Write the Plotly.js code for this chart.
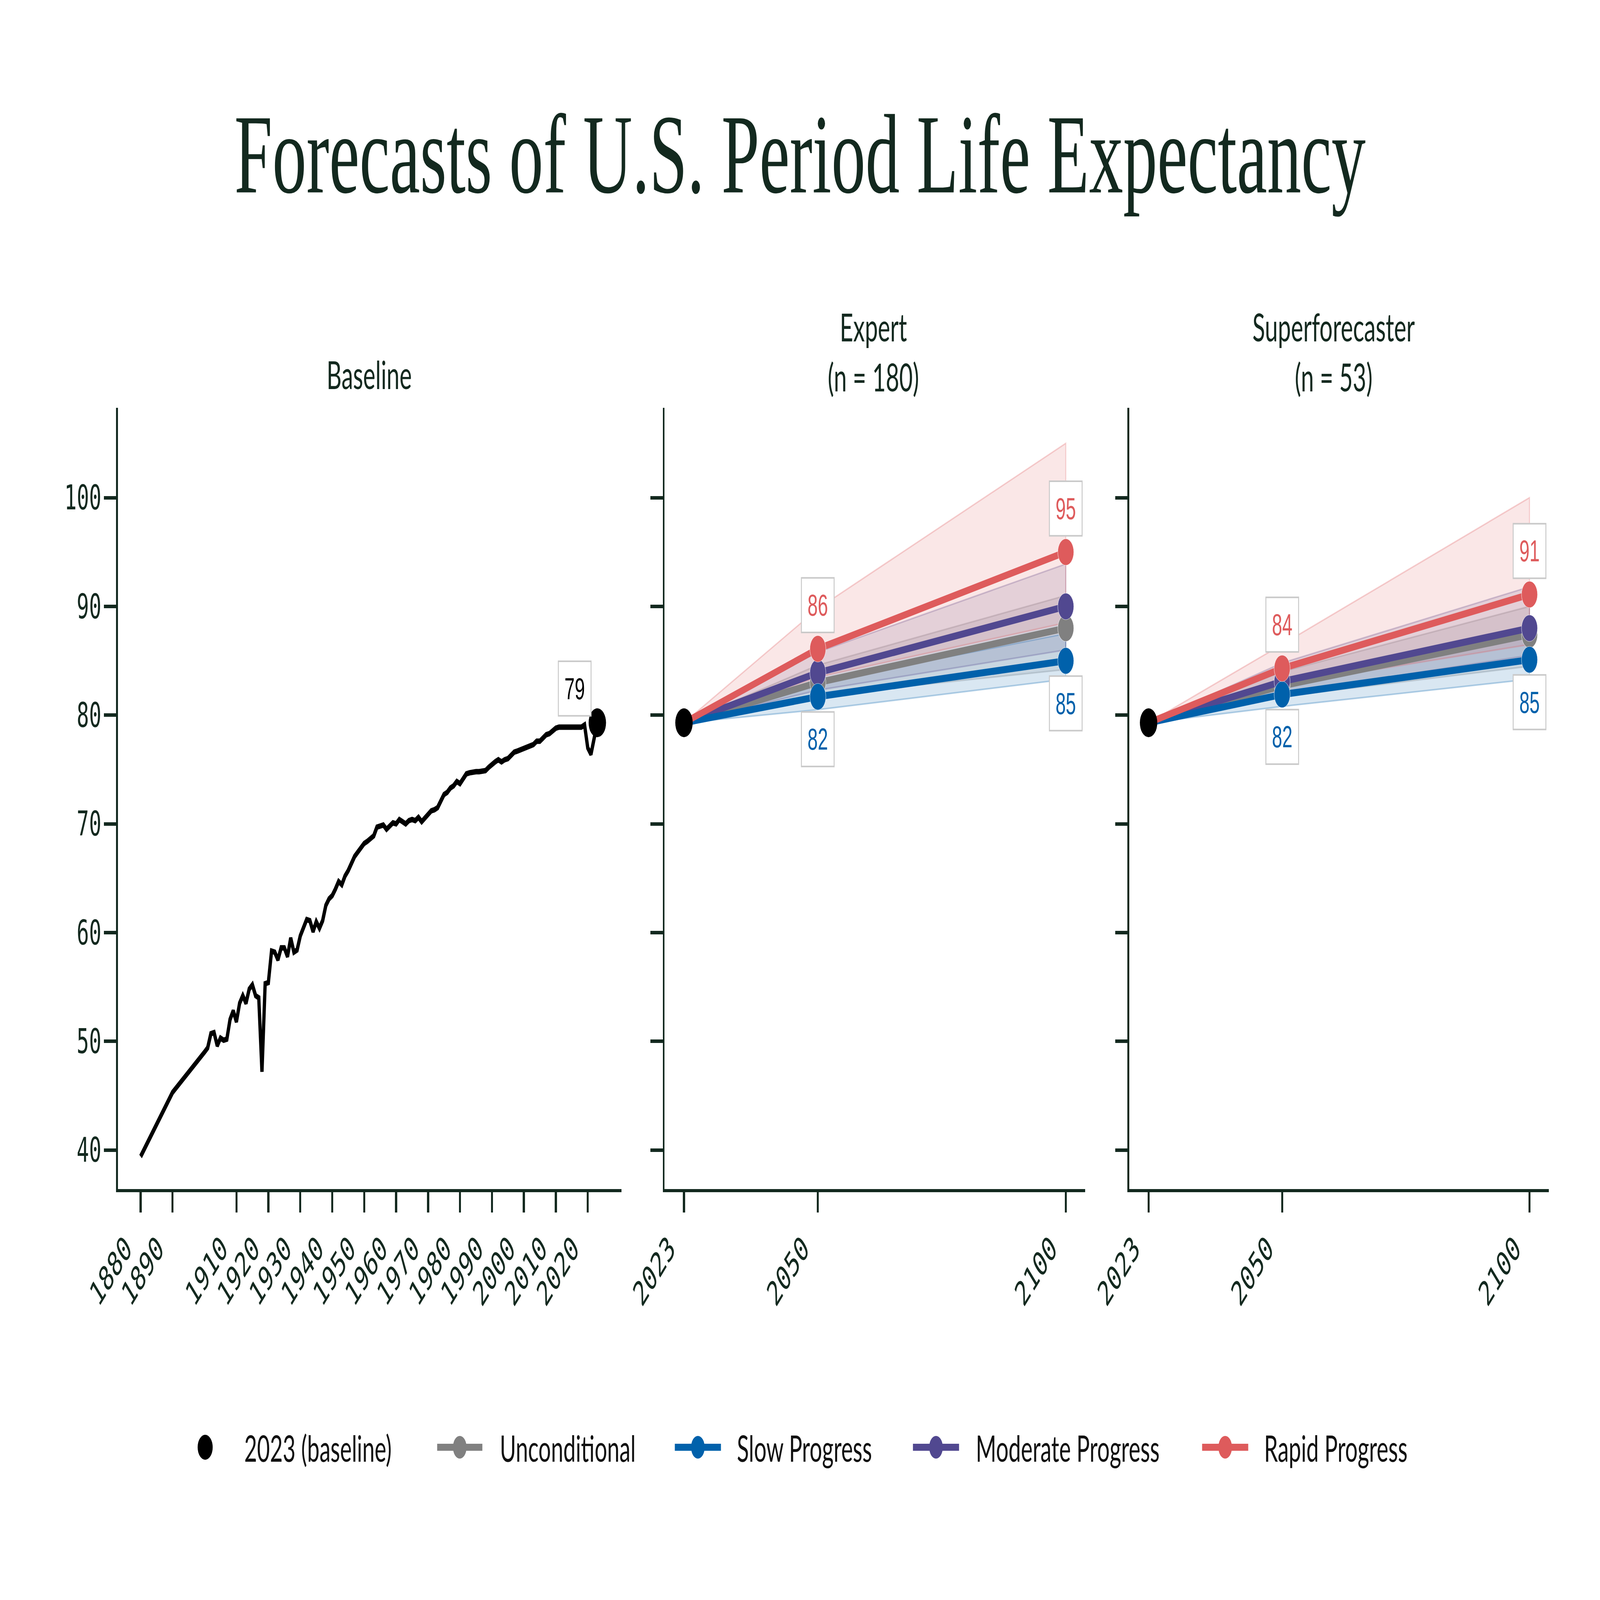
<!DOCTYPE html>
<html>
<head>
<meta charset="utf-8">
<script src="https://cdn.plot.ly/plotly-3.0.1.min.js"></script>
<style>
html,body{margin:0;padding:0;background:#fff;overflow:hidden;}
#wrap{position:absolute;left:0;top:0;width:6800px;height:4106px;transform-origin:0 0;}
#chart{width:6800px;height:4106px;}
</style>
</head>
<body>
<div id="wrap"><div id="chart"></div></div>
<script>
// ---------- DATA ----------
const baselineYears = [1880,1890,1900,1901,1902,1903,1904,1905,1906,1907,1908,1909,
1910,1911,1912,1913,1914,1915,1916,1917,1918,1919,
1920,1921,1922,1923,1924,1925,1926,1927,1928,1929,
1930,1931,1932,1933,1934,1935,1936,1937,1938,1939,
1940,1941,1942,1943,1944,1945,1946,1947,1948,1949,
1950,1951,1952,1953,1954,1955,1956,1957,1958,1959,
1960,1961,1962,1963,1964,1965,1966,1967,1968,1969,
1970,1971,1972,1973,1974,1975,1976,1977,1978,1979,
1980,1981,1982,1983,1984,1985,1986,1987,1988,1989,
1990,1991,1992,1993,1994,1995,1996,1997,1998,1999,
2000,2001,2002,2003,2004,2005,2006,2007,2008,2009,
2010,2011,2012,2013,2014,2015,2016,2017,2018,2019,
2020,2021,2022,2023];
const baselineLE = [39.4,45.3,49.0,49.4,50.7,50.8,49.6,50.3,50.1,50.2,52.0,52.8,
51.8,53.5,54.2,53.5,54.8,55.2,54.2,54.0,47.2,55.3,
55.4,58.3,58.2,57.5,58.6,58.6,57.8,59.5,58.2,58.4,
59.7,60.5,61.2,61.1,60.1,61.0,60.4,61.1,62.5,63.1,
63.4,64.0,64.7,64.4,65.2,65.7,66.3,67.0,67.4,67.8,
68.2,68.4,68.6,68.9,69.7,69.8,69.9,69.5,69.8,70.1,
70.0,70.4,70.2,70.0,70.3,70.4,70.3,70.6,70.2,70.5,
70.8,71.2,71.3,71.5,72.1,72.7,72.9,73.3,73.5,73.9,
73.7,74.2,74.6,74.7,74.8,74.8,74.8,74.9,74.9,75.2,
75.5,75.7,75.9,75.7,75.9,76.0,76.3,76.6,76.7,76.8,
76.9,77.0,77.1,77.3,77.6,77.6,77.9,78.2,78.3,78.6,
78.8,78.9,78.9,78.9,78.9,78.8,78.8,78.8,78.9,79.1,
77.0,76.4,77.9,79.3];

const baseYear = 2023;
const baseValue = 79.3;
const forecastYears = [2023, 2050, 2100];

const scenarioNames = ["Unconditional", "Slow Progress", "Moderate Progress", "Rapid Progress"];
const scenarioColors = ["#808080", "#0061ab", "#514890", "#de5b5c"];
const scenarioRGB = ["128,128,128", "0,97,171", "81,72,144", "222,91,92"];

// Expert (n = 180): values at 2050, 2100 per scenario
const expertMedian = [[83.0, 88.0], [81.7, 85.0], [83.9, 90.0], [86.1, 95.0]];
const expertLower  = [[81.8, 84.2], [80.5, 83.3], [82.3, 86.0], [83.5, 88.5]];
const expertUpper  = [[84.6, 91.0], [83.0, 87.5], [85.8, 93.9], [89.8, 105.0]];

// Superforecaster (n = 53)
const superMedian = [[82.7, 87.4], [81.9, 85.1], [83.1, 88.0], [84.3, 91.1]];
const superLower  = [[81.7, 84.5], [80.8, 83.3], [82.0, 85.5], [82.8, 86.5]];
const superUpper  = [[84.0, 90.0], [83.0, 87.5], [84.8, 91.8], [86.5, 100.0]];

const baselineTicks = [1880,1890,1910,1920,1930,1940,1950,1960,1970,1980,1990,2000,2010,2020];
const forecastTicks = [2023, 2050, 2100];
const yTicks = [40,50,60,70,80,90,100];

// ---------- STYLE ----------
const W = 6800, H = 4106;
// fit the 6800x4106 design into whatever window we are given
(function fit() {
  const vw = window.innerWidth || W, vh = window.innerHeight || H;
  const sx = Math.min(1, vw / W), sy = Math.min(1, vh / H);
  document.getElementById('wrap').style.transform = 'scale(' + sx + ',' + sy + ')';
})();

const INK = "#13291f";
const tickFont = {family: "DejaVu Sans Mono", size: 87, color: INK};
const labelFont = "Liberation Sans";
const textFont = "Lato";

function axisStyle(extra) {
  return Object.assign({
    showline: true, linecolor: INK, linewidth: 8,
    ticks: "outside", ticklen: 52, tickwidth: 9, tickcolor: INK,
    showgrid: false, zeroline: false, tickfont: tickFont, fixedrange: true
  }, extra);
}
function xStyle(extra) {
  return axisStyle(Object.assign({tickangle: -45, ticklabelstandoff: 6, ticklabelshift: -62}, extra));
}

const yDomain = [0.2569, 0.7452];
const yRange = [36.42, 108.28];

const layout = {
  width: W, height: H,
  margin: {l: 0, r: 0, t: 0, b: 0},
  paper_bgcolor: "#ffffff", plot_bgcolor: "#ffffff",
  showlegend: false,
  title: {text: "Forecasts of U.S. Period Life Expectancy",
          font: {family: "Liberation Serif", size: 290, color: INK},
          x: 0.5, xanchor: "center", y: 0.9045, yanchor: "middle"},
  xaxis: xStyle({domain: [0.0737, 0.3885], range: [1872.9, 2030.6], tickvals: baselineTicks, anchor: "y"}),
  yaxis: axisStyle({domain: yDomain, range: yRange, tickvals: yTicks, anchor: "x", ticklabelstandoff: -7}),
  xaxis2: xStyle({domain: [0.4154, 0.6782], range: [2019.1, 2103.9], tickvals: forecastTicks, anchor: "y2"}),
  yaxis2: axisStyle({domain: yDomain, range: yRange, tickvals: yTicks, showticklabels: false, anchor: "x2"}),
  xaxis3: xStyle({domain: [0.7058, 0.9680], range: [2019.1, 2103.9], tickvals: forecastTicks, anchor: "y3"}),
  yaxis3: axisStyle({domain: yDomain, range: yRange, tickvals: yTicks, showticklabels: false, anchor: "x3"}),
  annotations: [],
  shapes: []
};

// subplot titles
const subTitleFont = {family: textFont, size: 99, color: INK};
layout.annotations.push({xref: "paper", yref: "paper", x: 1569 / W, y: 1 - 959/H, xanchor: "center", yanchor: "middle", text: "Baseline", showarrow: false, font: subTitleFont});
layout.annotations.push({xref: "paper", yref: "paper", x: 3712 / W, y: 1 - 902/H, xanchor: "center", yanchor: "middle", text: "Expert<br>(n = 180)", showarrow: false, font: subTitleFont});
layout.annotations.push({xref: "paper", yref: "paper", x: 5668 / W, y: 1 - 902/H, xanchor: "center", yanchor: "middle", text: "Superforecaster<br>(n = 53)", showarrow: false, font: subTitleFont});

const traces = [];

// Baseline panel
traces.push({x: baselineYears, y: baselineLE, xaxis: "x", yaxis: "y", mode: "lines",
  line: {color: "#000000", width: 14}, hoverinfo: "skip"});
traces.push({x: [baseYear], y: [baseValue], xaxis: "x", yaxis: "y", mode: "markers",
  marker: {color: "#000000", size: 74, opacity: 1}, hoverinfo: "skip"});

function valueBox(xref, yref, x, y, color, shift) {
  return {xref: xref, yref: yref, x: x, y: y, text: String(Math.round(y)), showarrow: false,
    yshift: shift, font: {family: labelFont, size: 78, color: color},
    bgcolor: "#ffffff", bordercolor: "#c9c9c9", borderwidth: 4, borderpad: 24};
}
layout.annotations.push(Object.assign(valueBox("x", "y", baseYear, baseValue, "#000000", 88), {xshift: -96}));

function addPanel(xa, ya, median, lower, upper) {
  [0, 1, 2, 3].forEach(i => {
    traces.push({
      x: [baseYear, forecastYears[1], forecastYears[2], forecastYears[2], forecastYears[1], baseYear],
      y: [baseValue, upper[i][0], upper[i][1], lower[i][1], lower[i][0], baseValue],
      xaxis: xa, yaxis: ya, mode: "lines", fill: "toself",
      fillcolor: "rgba(" + scenarioRGB[i] + ",0.15)",
      line: {color: "rgba(" + scenarioRGB[i] + ",0.28)", width: 4},
      hoverinfo: "skip"
    });
  });
  [0, 2, 1, 3].forEach(i => {
    traces.push({
      x: forecastYears, y: [baseValue, median[i][0], median[i][1]],
      xaxis: xa, yaxis: ya, mode: "lines+markers",
      line: {color: scenarioColors[i], width: 18},
      marker: {color: scenarioColors[i], size: [0, 68, 68], opacity: 1},
      hoverinfo: "skip"
    });
  });
  traces.push({x: [baseYear], y: [baseValue], xaxis: xa, yaxis: ya, mode: "markers",
    marker: {color: "#000000", size: 74, opacity: 1}, hoverinfo: "skip"});
  // value labels: rapid above, slow below
  layout.annotations.push(valueBox(xa, ya, forecastYears[1], median[3][0], scenarioColors[3], 112));
  layout.annotations.push(valueBox(xa, ya, forecastYears[2], median[3][1], scenarioColors[3], 112));
  layout.annotations.push(valueBox(xa, ya, forecastYears[1], median[1][0], scenarioColors[1], -109));
  layout.annotations.push(valueBox(xa, ya, forecastYears[2], median[1][1], scenarioColors[1], -109));
}
addPanel("x2", "y2", expertMedian, expertLower, expertUpper);
addPanel("x3", "y3", superMedian, superLower, superUpper);

// ---------- legend (pixel-sized symbols) ----------
const legendY = 1 - 3714 / H;
const legendItems = [
  {label: "2023 (baseline)", color: "#000000", line: false, cx: 872, tx: 1036},
  {label: scenarioNames[0], color: scenarioColors[0], line: true, x0: 1858, x1: 2050, cx: 1954, tx: 2122},
  {label: scenarioNames[1], color: scenarioColors[1], line: true, x0: 2868, x1: 3064, cx: 2966, tx: 3130},
  {label: scenarioNames[2], color: scenarioColors[2], line: true, x0: 3880, x1: 4076, cx: 3978, tx: 4145},
  {label: scenarioNames[3], color: scenarioColors[3], line: true, x0: 5109, x1: 5305, cx: 5207, tx: 5370}
];
legendItems.forEach(it => {
  if (it.line) {
    layout.shapes.push({type: "line", xref: "paper", yref: "paper", x0: it.x0 / W, x1: it.x1 / W, y0: legendY, y1: legendY,
      line: {color: it.color, width: 18}});
  }
  const r = it.line ? 29 : 32;
  layout.shapes.push({type: "circle", xref: "paper", yref: "paper", xsizemode: "pixel", ysizemode: "pixel",
    xanchor: it.cx / W, yanchor: legendY, x0: -r, x1: r, y0: -r, y1: r,
    fillcolor: it.color, line: {width: 0}});
  layout.annotations.push({xref: "paper", yref: "paper", x: it.tx / W, y: legendY, xanchor: "left", yanchor: "middle",
    text: it.label, showarrow: false, font: {family: textFont, size: 94, color: "#111111"}});
});

Plotly.newPlot("chart", traces, layout, {staticPlot: true, displayModeBar: false});
</script>
</body>
</html>
